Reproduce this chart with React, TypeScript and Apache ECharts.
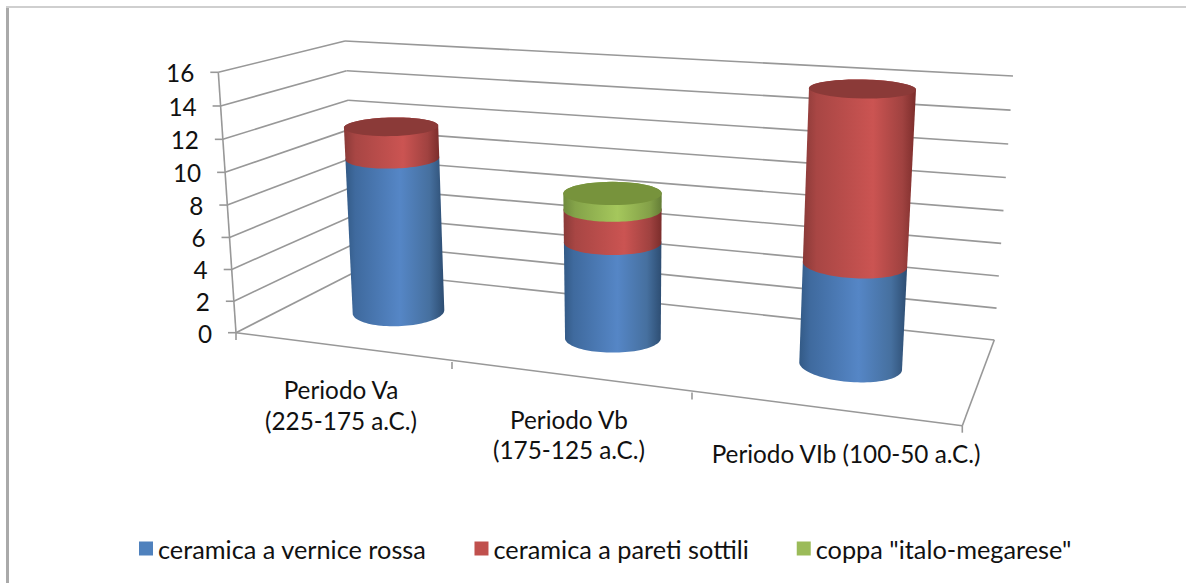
import React, { useEffect, useRef } from "react";
import * as echarts from "echarts";

const categories = ["Periodo Va\n(225-175 a.C.)", "Periodo Vb\n(175-125 a.C.)", "Periodo VIb (100-50 a.C.)"];
const yTicks = [0, 2, 4, 6, 8, 10, 12, 14, 16];
const vernice = [10, 6, 6];
const pareti = [2, 2, 10];
const coppa = [0, 1, 0];
const names = ["ceramica a vernice rossa", "ceramica a pareti sottili", 'coppa "italo-megarese"'];

const FONT = "Lato";
const FS = 24.3;
const LFS = 25.3;
const TXT = "#111";
const AXIS = "#989898";

// perspective box
const FL0 = [236, 332.7], FL1 = [218.3, 72.3];
const BL0 = [357, 271], BL1 = [345, 41];
const BR0 = [994.3, 340], BR1 = [1013, 76];
const FR0 = [962.3, 425.7];
const floorTicks = [[236, 333], [452, 362], [692, 392.5], [962.3, 425.7]];

// cylinders
const cyl = [
  { x: 398.5, y: 311.7, H: 249, dx: -10, hw0: 45.8, hw1: 47.6, ry0: 14.5, ry1: 7.5, tilt0: -1.6, tilt1: -0.8 },
  { x: 612.9, y: 338.3, H: 262, dx: -0.7, hw0: 47.85, hw1: 50.3, ry0: 14.3, ry1: 9.5, tilt0: 0, tilt1: 0 },
  { x: 850.65, y: 366, H: 277, dx: 11.85, hw0: 51.35, hw1: 53.5, ry0: 16, ry1: 9.5, tilt0: 3.65, tilt1: 0.85 },
];
const catLabelPos = [[341, 405], [569, 434.5], [846, 453]];

const sideStops = [
  [[0, "#335a86"], [0.1, "#3f6a9e"], [0.55, "#5586c6"], [0.85, "#46709f"], [1, "#2d4d72"]],
  [[0, "#8a3a38"], [0.12, "#a84644"], [0.62, "#cb5452"], [0.88, "#a04240"], [1, "#7b2d2b"]],
  [[0, "#6f8a3d"], [0.12, "#84a349"], [0.55, "#a5c75c"], [0.88, "#83a048"], [1, "#647d36"]],
];
const capColor = ["#3f6a9e", "#8b3a38", "#77933c"];
const legendColor = ["#4f81bd", "#c0504d", "#9bbb59"];

const persp = (t: number) => t / (1.04 - 0.04 * t);
const mix = (a: number[], b: number[], p: number) => [a[0] + (b[0] - a[0]) * p, a[1] + (b[1] - a[1]) * p];

const frac = (api: any, v: number) => {
  const y0 = api.coord([0, 0])[1];
  const y1 = api.coord([0, 16])[1];
  return persp((y0 - api.coord([0, v])[1]) / (y0 - y1));
};

const ell = (c: number, p: number, th: number) => {
  const k = cyl[c];
  const cx = k.x + k.dx * p;
  const cy = k.y - k.H * p;
  const hw = k.hw0 + (k.hw1 - k.hw0) * p;
  const ry = k.ry0 + (k.ry1 - k.ry0) * p;
  const tilt = k.tilt0 + (k.tilt1 - k.tilt0) * p;
  return [cx + hw * Math.cos(th), cy + ry * Math.sin(th) + tilt * Math.cos(th)];
};

const arc = (c: number, p: number, a: number, b: number) => {
  const out: number[][] = [];
  for (let i = 0; i <= 48; i++) out.push(ell(c, p, a + ((b - a) * i) / 48));
  return out;
};

const line = (a: number[], b: number[], w = 1.6, color = AXIS) => ({
  type: "line",
  shape: { x1: a[0], y1: a[1], x2: b[0], y2: b[1] },
  style: { stroke: color, lineWidth: w },
});

const rows = [vernice, pareti, coppa];
const stackTop = (c: number, s: number) => rows.slice(0, s + 1).reduce((acc, r) => acc + r[c], 0);

const cylinderSeries = (s: number) => ({
  type: "custom",
  name: names[s],
  itemStyle: { color: legendColor[s] },
  data: rows[s]
    .map((v, c) => [c, stackTop(c, s) - v, stackTop(c, s), stackTop(c, 2)])
    .filter((d) => d[2] > d[1]),
  encode: { x: 0, y: 2 },
  renderItem: (_: any, api: any) => {
    const c = api.value(0);
    const p0 = frac(api, api.value(1));
    const p1 = frac(api, api.value(2));
    const children: any[] = [
      {
        type: "polygon",
        shape: { points: [...arc(c, p0, Math.PI, 0), ...arc(c, p1, 0, -Math.PI)] },
        style: {
          fill: new echarts.graphic.LinearGradient(
            0, 0, 1, 0,
            sideStops[s].map((x) => ({ offset: x[0] as number, color: x[1] as string }))
          ),
        },
      },
    ];
    if (api.value(2) === api.value(3)) {
      children.push({
        type: "polygon",
        shape: { points: arc(c, p1, 0, Math.PI * 2) },
        style: { fill: capColor[s] },
      });
    }
    return { type: "group", children };
  },
});

export default function App() {
  const ref = useRef<HTMLDivElement>(null);
  useEffect(() => {
    const chart = echarts.init(ref.current!, undefined, { renderer: "svg" });
    chart.setOption({
      animation: false,
      backgroundColor: "#fff",
      textStyle: { fontFamily: FONT },
      grid: { left: 218, top: 72, width: 744, height: 261 },
      xAxis: { type: "category", data: categories, show: false },
      yAxis: { type: "value", min: 0, max: 16, interval: 2, show: false },
      legend: {
        data: names,
        left: 134,
        top: 531,
        icon: "rect",
        itemWidth: 14,
        itemHeight: 14,
        itemGap: 48,
        selectedMode: false,
        textStyle: { fontFamily: FONT, fontSize: LFS, color: TXT },
      },
      graphic: [
        { type: "rect", shape: { x: 6, y: 6, width: 3, height: 577 }, style: { fill: "#aaaaaa" } },
        { type: "rect", shape: { x: 6, y: 6, width: 1180, height: 2 }, style: { fill: "#cfcfcf" } },
      ],
      series: [
        {
          type: "custom",
          name: "griglia",
          silent: true,
          data: yTicks.map((v) => [0, v]),
          encode: { x: 0, y: 1 },
          renderItem: (_: any, api: any) => {
            const v = api.value(1);
            const p = frac(api, v);
            const f = mix(FL0, FL1, p);
            const b = mix(BL0, BL1, p);
            const r = mix(BR0, BR1, p);
            return {
              type: "group",
              children: [
                line([f[0] - 8, f[1]], f),
                line(f, b),
                line(b, r),
                {
                  type: "text",
                  x: f[0] - 24,
                  y: f[1] + 0.5,
                  style: {
                    text: String(v),
                    fill: TXT,
                    fontFamily: FONT,
                    fontSize: FS,
                    align: "right",
                    verticalAlign: "middle",
                  },
                },
              ],
            };
          },
        },
        {
          type: "custom",
          name: "pavimento",
          silent: true,
          data: floorTicks.map((_, i) => [0, 0, i]),
          encode: { x: 0, y: 1 },
          renderItem: (_: any, api: any) => {
            const i = api.value(2);
            const t = floorTicks[i];
            const kids: any[] = [line([t[0], t[1]], [t[0], t[1] + 7])];
            if (i === 0) {
              kids.push(line(FL0, FL1), line(FL0, FR0), line(FR0, BR0));
            }
            return { type: "group", children: kids };
          },
        },
        cylinderSeries(0),
        cylinderSeries(1),
        cylinderSeries(2),
        {
          type: "custom",
          name: "etichette",
          silent: true,
          data: categories.map((_, i) => [i, 0]),
          encode: { x: 0, y: 1 },
          renderItem: (_: any, api: any) => {
            const c = api.value(0);
            return {
              type: "text",
              x: catLabelPos[c][0],
              y: catLabelPos[c][1],
              style: {
                text: categories[c],
                fill: TXT,
                fontFamily: FONT,
                fontSize: FS,
                lineHeight: 30.5,
                align: "center",
                verticalAlign: "middle",
              },
            };
          },
        },
      ],
    });
    return () => chart.dispose();
  }, []);
  return <div ref={ref} style={{ position: "absolute", left: 0, top: 0, width: 1186, height: 583 }} />;
}
